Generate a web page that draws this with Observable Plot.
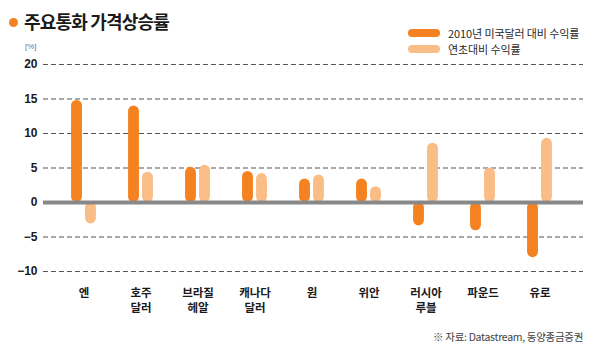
<!DOCTYPE html>
<html><head><meta charset="utf-8">
<script src="https://cdn.jsdelivr.net/npm/d3@7"></script>
<script src="https://cdn.jsdelivr.net/npm/@observablehq/plot@0.6"></script>
<style>
body{margin:0;background:#fff;}
#wrap{position:relative;width:599px;height:353px;overflow:hidden;font-family:"Noto Sans CJK KR","Noto Sans",sans-serif;}
#wrap svg{position:absolute;left:0;top:0;}
.abs{position:absolute;white-space:nowrap;}
#dot{left:8.5px;top:17.5px;width:9px;height:9px;border-radius:50%;background:#f58220;}
#title{left:24px;top:8px;font-size:18px;font-weight:bold;color:#1a1a1a;letter-spacing:-0.8px;line-height:26px;}
#unit{left:25px;top:41px;font-size:8px;color:#6b7685;font-family:"Liberation Sans",sans-serif;line-height:12px;}
.pill{left:408px;width:32px;height:8px;border-radius:4px;}
.ltxt{left:448px;font-size:11px;color:#2a2a2a;line-height:14px;letter-spacing:-0.1px;}
#src{right:16px;top:329px;font-size:10.5px;color:#444;line-height:16px;letter-spacing:-0.3px;}
</style></head><body>
<div id="wrap">
  <div id="chart"></div>
  <div class="abs" id="dot"></div>
  <div class="abs" id="title">주요통화 가격상승률</div>
  <div class="abs" id="unit">[%]</div>
  <div class="abs pill" id="p1" style="top:29px;background:#f58220"></div>
  <div class="abs ltxt" id="l1" style="top:26px"></div>
  <div class="abs pill" id="p2" style="top:45px;background:#fbbd88"></div>
  <div class="abs ltxt" id="l2" style="top:42px"></div>
  <div class="abs" id="src">※ 자료: Datastream, 동양종금증권</div>
</div>
<script>
const categories = ["엔", "호주\n달러", "브라질\n헤알", "캐나다\n달러", "원", "위안", "러시아\n루블", "파운드", "유로"];
const vsUSD2010 = [14.8, 14.0, 5.1, 4.5, 3.4, 3.4, -3.4, -4.1, -8.0];
const ytd = [-3.1, 4.4, 5.4, 4.2, 4.0, 2.3, 8.6, 5.0, 9.3];
const seriesNames = ["2010년 미국달러 대비 수익률", "연초대비 수익률"];
const yTicks = [-10, -5, 0, 5, 10, 15, 20];
const seriesColors = ["#f58220", "#fbbd88"];

document.getElementById("l1").textContent = seriesNames[0];
document.getElementById("l2").textContent = seriesNames[1];

const rows = categories.map((c, i) => ({cat: c, a: vsUSD2010[i], b: ytd[i]}));

const chart = Plot.plot({
  width: 599, height: 353,
  marginTop: 64, marginBottom: 82, marginLeft: 43, marginRight: 16,
  style: {fontFamily: '"Liberation Sans","Noto Sans CJK KR",sans-serif', background: "transparent", color: "#1a1a1a"},
  x: {domain: categories, padding: 0, insetLeft: 11.44, insetRight: 14.44, axis: null},
  y: {domain: [-10, 20], axis: null},
  marks: [
    Plot.ruleY(yTicks.filter(d => d !== 0), {stroke: "#555", strokeWidth: 1.2, strokeDasharray: "5,3"}),
    Plot.barY(rows, {x: "cat", y: "a", fill: seriesColors[0], rx: 5.5, insetLeft: 16.06, insetRight: 30.06}),
    Plot.barY(rows, {x: "cat", y: "b", fill: seriesColors[1], rx: 5.5, insetLeft: 30.06, insetRight: 16.06}),
    Plot.ruleY([0], {stroke: "#888", strokeWidth: 4}),
    Plot.axisY({ticks: yTicks, tickSize: 0, tickPadding: 6, fontWeight: "bold", fontSize: 12, fill: "#1a1a1a", label: null}),
    Plot.axisX({tickSize: 0, tickPadding: 15, fontWeight: "bold", fontSize: 11.5, lineHeight: 1.3, fill: "#1a1a1a", label: null, fontFamily: '"Noto Sans CJK KR",sans-serif'})
  ]
});
document.getElementById("chart").appendChild(chart);
</script>
</body></html>
